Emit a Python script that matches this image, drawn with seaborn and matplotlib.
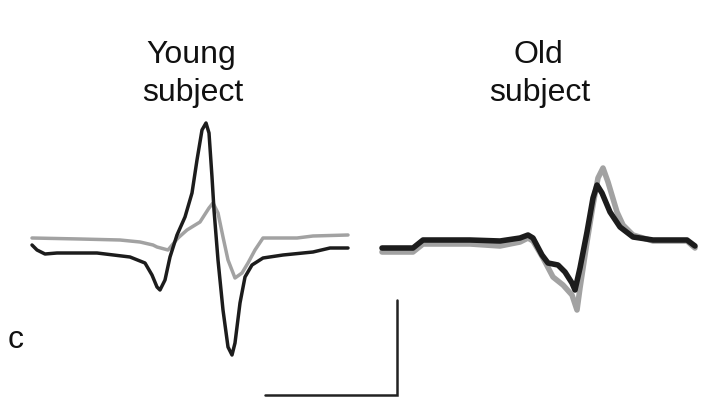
import numpy as np
import pandas as pd
import matplotlib
matplotlib.use("Agg")
import matplotlib.pyplot as plt
import seaborn as sns

# traces (x = time position, y = deflection, image units, down = positive)
young_black_x = [32, 37, 45, 57, 97, 130, 145, 152, 157, 160, 165, 170, 177, 185, 192, 197, 202, 206,
                 209, 212, 214, 218, 223, 228, 232, 235, 240, 245, 252, 263, 283, 313, 330, 348]
young_black_y = [245, 250, 254, 253, 253, 257, 263, 275, 287, 290, 280, 257, 235, 217, 193, 160, 130, 123,
                 133, 177, 210, 260, 310, 347, 355, 343, 303, 277, 265, 258, 255, 252, 248, 248]
young_gray_x = [32, 80, 120, 140, 153, 157, 168, 178, 187, 200, 209, 213, 218, 223, 228, 235, 242, 248,
                255, 263, 297, 313, 348]
young_gray_y = [238, 239, 240, 242, 245, 247, 250, 238, 230, 222, 208, 203, 213, 237, 260, 278, 273, 263,
                250, 238, 238, 236, 235]

old_black_x = [382, 413, 423, 470, 500, 520, 528, 533, 542, 548, 558, 565, 572, 575, 580, 587, 593, 597,
               602, 610, 620, 633, 653, 687, 695]
old_black_y = [248, 248, 240, 240, 241, 238, 235, 238, 255, 263, 265, 272, 283, 290, 268, 232, 198, 185,
               193, 212, 227, 237, 240, 240, 246]
old_gray_x = [382, 413, 423, 470, 500, 520, 528, 533, 543, 553, 563, 572, 577, 580, 587, 593, 598, 603,
              608, 617, 623, 633, 653, 687, 695]
old_gray_y = [252, 252, 244, 244, 246, 242, 238, 241, 258, 277, 285, 295, 310, 288, 242, 205, 178, 168,
              182, 212, 225, 235, 241, 241, 248]

panel_titles = ["Young\nsubject", "Old\nsubject"]
panel_label = "c"

sns.set_style("white")
plt.rcParams["font.family"] = ["Liberation Sans", "DejaVu Sans"]

fig = plt.figure(figsize=(7.09, 4.04), dpi=100)
ax = fig.add_axes([0, 0, 1, 1])

gray = "#a2a2a2"
black = "#1c1c1c"
sns.lineplot(x=young_gray_x, y=young_gray_y, ax=ax, color=gray, lw=2.5, estimator=None, sort=False)
sns.lineplot(x=young_black_x, y=young_black_y, ax=ax, color=black, lw=2.5, estimator=None, sort=False)
sns.lineplot(x=old_gray_x, y=old_gray_y, ax=ax, color=gray, lw=4.0, estimator=None, sort=False)
sns.lineplot(x=old_black_x, y=old_black_y, ax=ax, color=black, lw=4.0, estimator=None, sort=False)

# scale bar
ax.plot([265, 397, 397], [395, 395, 300], color="#222222", lw=1.8, solid_joinstyle="miter")

for cx, title in zip([193, 540], panel_titles):
    top, bottom = title.split("\n")
    ax.text(cx - 2, 63, top, ha="center", va="baseline", fontsize=23, color="#111111")
    ax.text(cx, 101, bottom, ha="center", va="baseline", fontsize=23, color="#111111")
ax.text(16, 348, panel_label, ha="center", va="baseline", fontsize=23, color="#111111")

ax.set_xlim(0, 709)
ax.set_ylim(404, 0)
ax.axis("off")

fig.savefig("out.png", dpi=100)
